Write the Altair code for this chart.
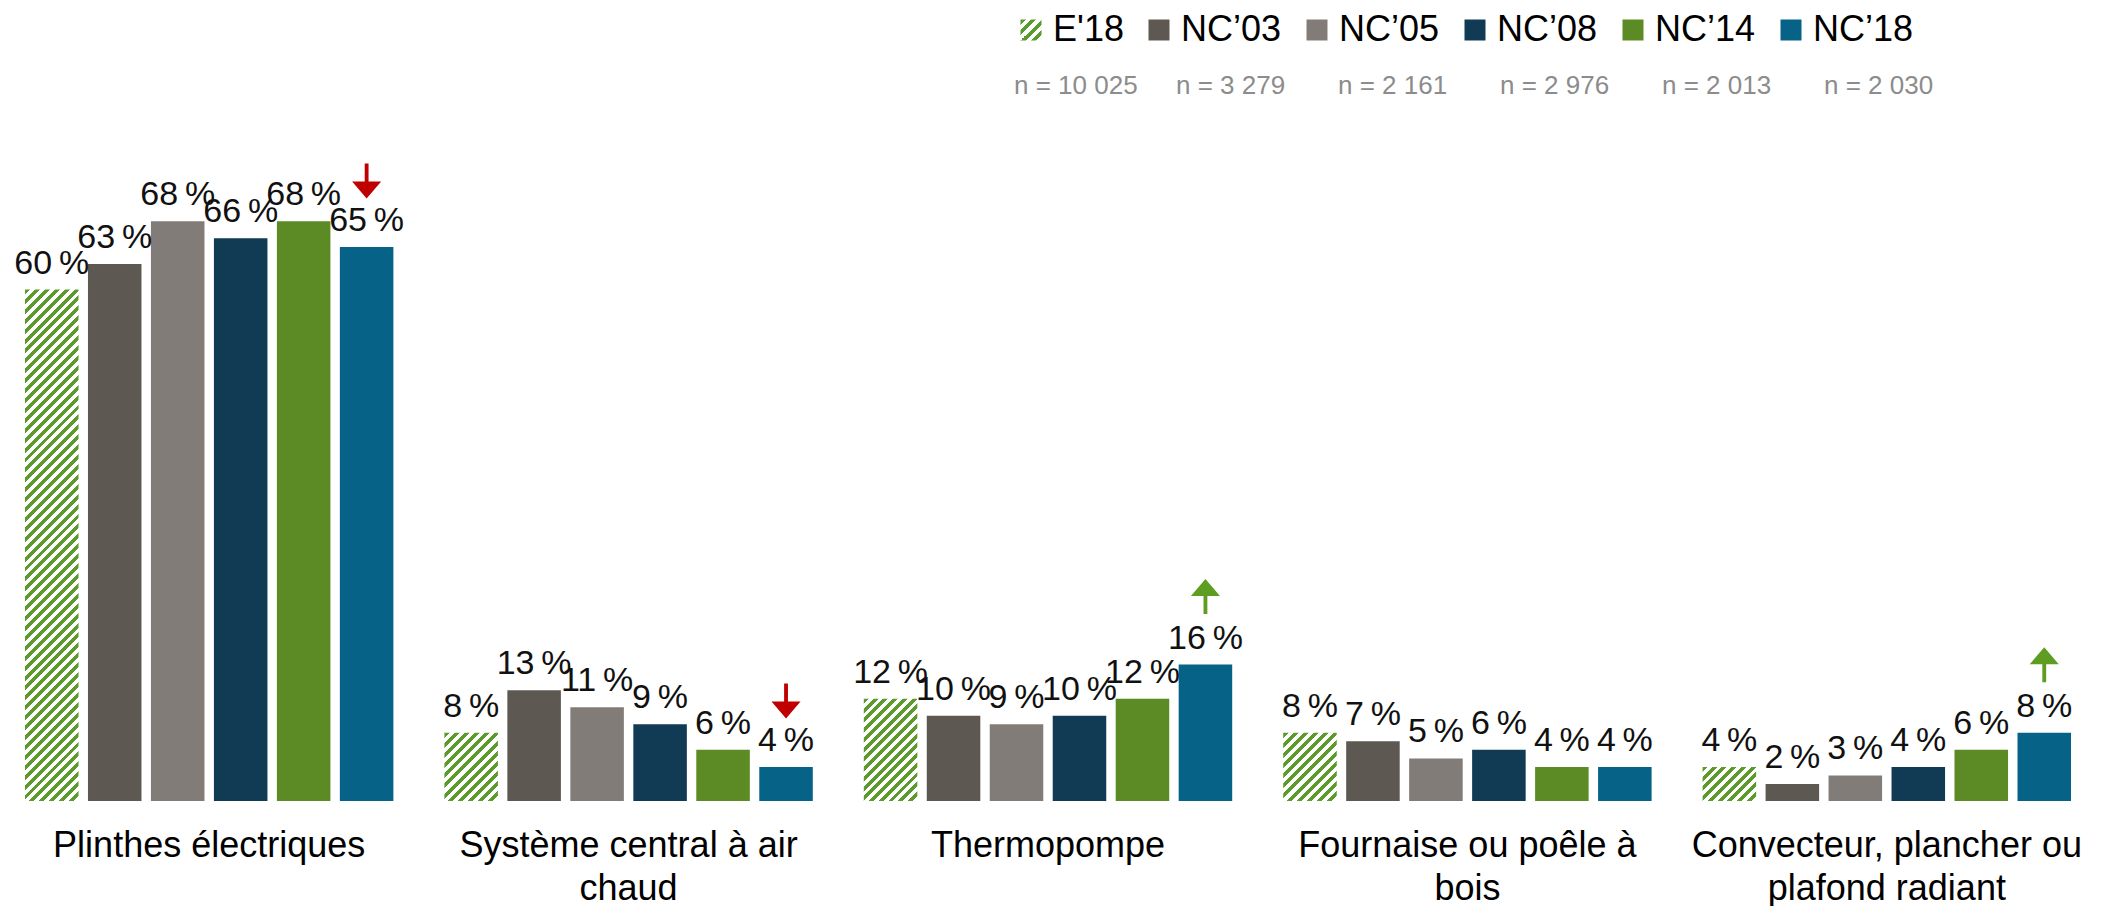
import json
import altair as alt

# ---------------- data ----------------
category_lines = [
    ["Plinthes électriques"],
    ["Système central à air", "chaud"],
    ["Thermopompe"],
    ["Fournaise ou poêle à", "bois"],
    ["Convecteur, plancher ou", "plafond radiant"],
]
categories = [" ".join(l) for l in category_lines]

series = ["E'18", "NC’03", "NC’05", "NC’08", "NC’14", "NC’18"]
sample_sizes = ["n = 10 025", "n = 3 279", "n = 2 161", "n = 2 976", "n = 2 013", "n = 2 030"]

e18 = [60, 8, 12, 8, 4]
nc03 = [63, 13, 10, 7, 2]
nc05 = [68, 11, 9, 5, 3]
nc08 = [66, 9, 10, 6, 4]
nc14 = [68, 6, 12, 4, 6]
nc18 = [65, 4, 16, 4, 8]
series_values = [e18, nc03, nc05, nc08, nc14, nc18]

# significant change of NC'18 (arrow above the bar)
trend_nc18 = ["down", "down", "up", "", "up"]

# ---------------- styling ----------------
FONT = "Liberation Sans"
HATCH_GREEN = "#5B9A2B"
colors = ["#5E5853", "#827C78", "#113A55", "#5C8A24", "#066387"]
RED = "#C00000"
GREEN_ARROW = "#5F9C22"

W, H = 2080, 682
Y_MAX = 80
PX_PER_PCT = H / Y_MAX
PI_X, PO_X = 0.1216, 0.0405
PI_OFF = 0.15
step_x = W / (len(categories) - PI_X + 2 * PO_X)
band_x = step_x * (1 - PI_X)
bar_w = band_x / (len(series) - PI_OFF) * (1 - PI_OFF)


def hatch_gradient(w, h, period=10.0, frac=0.5):
    n = max(1, round((w + h) / period))
    d = w * w + h * h
    x2 = (w + h) * w / d
    y2 = (w + h) * h / d
    stops = []
    for k in range(n):
        a = round(k / n, 5)
        b = round((k + frac) / n, 5)
        c = round((k + 1) / n, 5)
        stops += [
            {"offset": a, "color": HATCH_GREEN},
            {"offset": b, "color": HATCH_GREEN},
            {"offset": b, "color": "#FFFFFF"},
            {"offset": c, "color": "#FFFFFF"},
        ]
    return {"gradient": "linear", "x1": 0, "y1": 0, "x2": round(x2, 5), "y2": round(y2, 5), "stops": stops}


records = []
for i, cat in enumerate(categories):
    for j, s in enumerate(series):
        v = series_values[j][i]
        rec = {
            "category": cat,
            "series": s,
            "value": v,
            "label": f"{v}\u2009%",
            "n": sample_sizes[j],
            "trend": trend_nc18[i] if j == len(series) - 1 else "",
        }
        if j == 0:
            rec["grad"] = hatch_gradient(bar_w, v * PX_PER_PCT)
        records.append(rec)

legend_hatch = hatch_gradient(21, 21)
fill_range = [alt.ExprRef(expr=json.dumps(legend_hatch))] + colors

label_expr = (
    json.dumps(category_lines, ensure_ascii=False)
    + "[indexof("
    + json.dumps(categories, ensure_ascii=False)
    + ", datum.label)]"
)

x_enc = alt.X(
    "category:N",
    sort=categories,
    scale=alt.Scale(paddingInner=PI_X, paddingOuter=PO_X),
    axis=alt.Axis(
        title=None,
        domain=False,
        ticks=False,
        tickSize=0,
        labelAngle=0,
        labelFont=FONT,
        labelFontSize=36,
        labelColor="#000000",
        labelPadding=27,
        labelLineHeight=43,
        labelLimit=1000,
        labelOverlap=False,
        labelExpr=label_expr,
    ),
)
xo_enc = alt.XOffset("series:N", sort=series, scale=alt.Scale(paddingInner=PI_OFF, paddingOuter=0))
y_enc = alt.Y("value:Q", scale=alt.Scale(domain=[0, Y_MAX], nice=False, zero=True), axis=None)

base = alt.Chart(alt.Data(values=records))

bars_nc = base.transform_filter(
    alt.FieldOneOfPredicate(field="series", oneOf=series[1:])
).mark_bar().encode(
    x=x_enc,
    xOffset=xo_enc,
    y=y_enc,
    fill=alt.Fill(
        "series:N",
        scale=alt.Scale(domain=series, range=fill_range),
        legend=alt.Legend(
            title=None,
            orient="none",
            legendX=1005,
            legendY=-107,
            direction="horizontal",
            columns=6,
            columnPadding=17,
            padding=0,
            symbolType="square",
            symbolSize=441,
            symbolStrokeWidth=0,
            labelFont=FONT,
            labelFontSize=36,
            labelColor="#000000",
            labelOffset=4,
            labelLimit=400,
        ),
    ),
)

bars_e18 = base.transform_filter(
    alt.FieldOneOfPredicate(field="series", oneOf=series[:1])
).mark_bar().encode(
    x=x_enc,
    xOffset=xo_enc,
    y=y_enc,
    fill=alt.Fill("grad:N", scale=None, legend=None),
)

labels = base.mark_text(
    baseline="alphabetic", dy=-16, font=FONT, fontSize=34, color="#111111"
).encode(x=x_enc, xOffset=xo_enc, y=y_enc, text="label:N")

ARROW_DOWN = "M-0.11,-1L0.11,-1L0.11,0.03L0.83,0.03L0,1L-0.83,0.03L-0.11,0.03Z"
ARROW_UP = "M-0.11,1L0.11,1L0.11,-0.03L0.83,-0.03L0,-1L-0.83,-0.03L-0.11,-0.03Z"

arrows_down = base.transform_filter(
    alt.FieldEqualPredicate(field="trend", equal="down")
).mark_point(
    shape=ARROW_DOWN, size=1225, filled=True, color=RED, opacity=1, strokeWidth=0, yOffset=-66
).encode(x=x_enc, xOffset=xo_enc, y=y_enc)

arrows_up = base.transform_filter(
    alt.FieldEqualPredicate(field="trend", equal="up")
).mark_point(
    shape=ARROW_UP, size=1225, filled=True, color=GREEN_ARROW, opacity=1, strokeWidth=0, yOffset=-68
).encode(x=x_enc, xOffset=xo_enc, y=y_enc)

n_legend = base.mark_point(opacity=0).encode(
    x=x_enc,
    xOffset=xo_enc,
    y=y_enc,
    shape=alt.Shape(
        "n:N",
        sort=sample_sizes,
        scale=alt.Scale(domain=sample_sizes),
        legend=alt.Legend(
            title=None,
            orient="none",
            legendX=980,
            legendY=-46,
            direction="horizontal",
            columns=6,
            columnPadding=12,
            gridAlign="all",
            padding=0,
            symbolSize=1,
            symbolOpacity=0,
            symbolStrokeWidth=0,
            labelOffset=0,
            labelFont=FONT,
            labelFontSize=26,
            labelColor="#8C8C8C",
            labelLimit=400,
        ),
    ),
)

chart = alt.layer(bars_nc, bars_e18, labels, arrows_down, arrows_up, n_legend).properties(
    width=W,
    height=H,
    autosize=alt.AutoSizeParams(type="none"),
    padding={"left": 0, "top": 111, "right": 0, "bottom": 112},
    background="white",
).configure_view(stroke=None)

chart.save("out.html", embed_options={"renderer": "svg", "actions": False})
